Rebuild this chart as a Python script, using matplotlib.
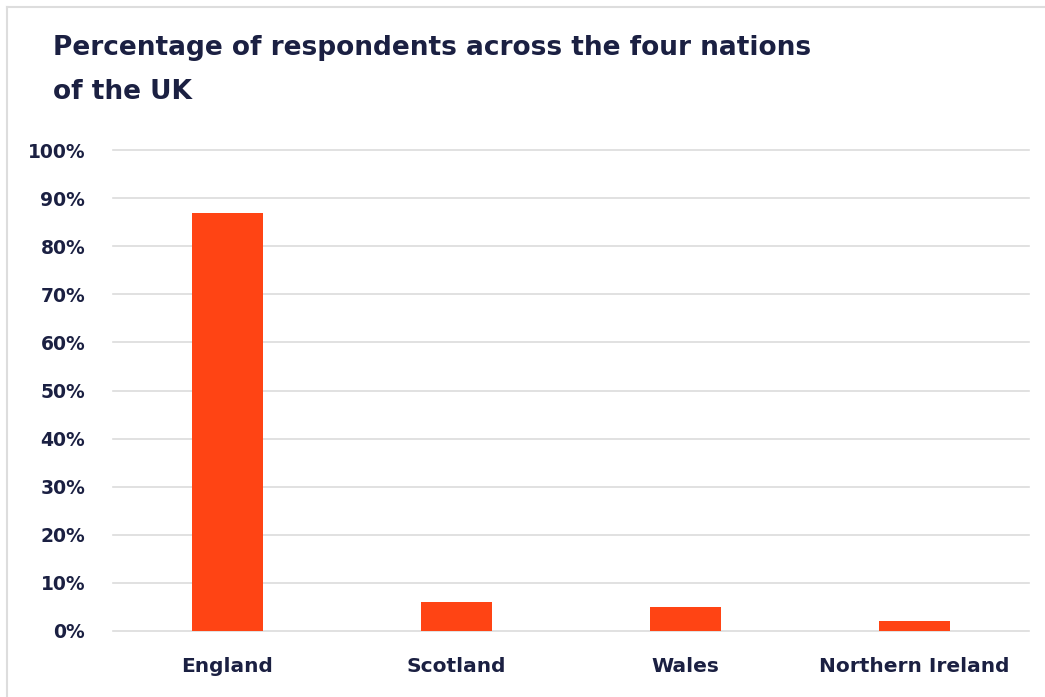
import matplotlib as mpl
mpl.use('Agg')
import matplotlib.pyplot as plt
from matplotlib.lines import Line2D

nations = ['England', 'Scotland', 'Wales', 'Northern Ireland']
pct = [87, 6, 5, 2]
yticks = [0, 10, 20, 30, 40, 50, 60, 70, 80, 90, 100]

navy = '#1b2042'
orange = '#ff4414'

plt.rcParams['font.family'] = ['DejaVu Sans']

fig = plt.figure(figsize=(10.45, 6.97), dpi=100)
ax = fig.add_axes([113 / 1045, 66 / 697, 916 / 1045, 481 / 697])

pos = [i + 0.5 for i in range(len(nations))]
ax.bar(pos, pct, width=0.31, color=orange, zorder=3)

ax.set_xlim(0, 4)
ax.set_ylim(0, 100)
ax.set_yticks(yticks)
ax.set_yticklabels([f'{t}%' for t in yticks], fontsize=13.5, fontweight='bold', color=navy)
ax.set_xticks(pos)
ax.set_xticklabels(nations, fontsize=14.5, fontweight='bold', color=navy)
ax.tick_params(axis='both', length=0)
ax.tick_params(axis='y', pad=20)
ax.tick_params(axis='x', pad=19)
ax.grid(axis='y', color='#dcdcdc', linewidth=1.2, zorder=0)
for gl in ax.get_ygridlines():
    gl.set_clip_on(False)
for s in ax.spines.values():
    s.set_visible(False)

fig.text(53 / 1045, 1 - 48 / 697, 'Percentage of respondents across the four nations',
         fontsize=19, fontweight='bold', color=navy, va='center')
fig.text(53 / 1045, 1 - 92 / 697, 'of the UK',
         fontsize=19, fontweight='bold', color=navy, va='center')

# light frame round the card
fig.add_artist(Line2D([7 / 1045, 7 / 1045], [0, 1 - 7 / 697], transform=fig.transFigure,
                      color='#dddddd', linewidth=1.5))
fig.add_artist(Line2D([7 / 1045, 1], [1 - 7 / 697, 1 - 7 / 697], transform=fig.transFigure,
                      color='#dddddd', linewidth=1.5))

fig.savefig('out.png', dpi=100)
